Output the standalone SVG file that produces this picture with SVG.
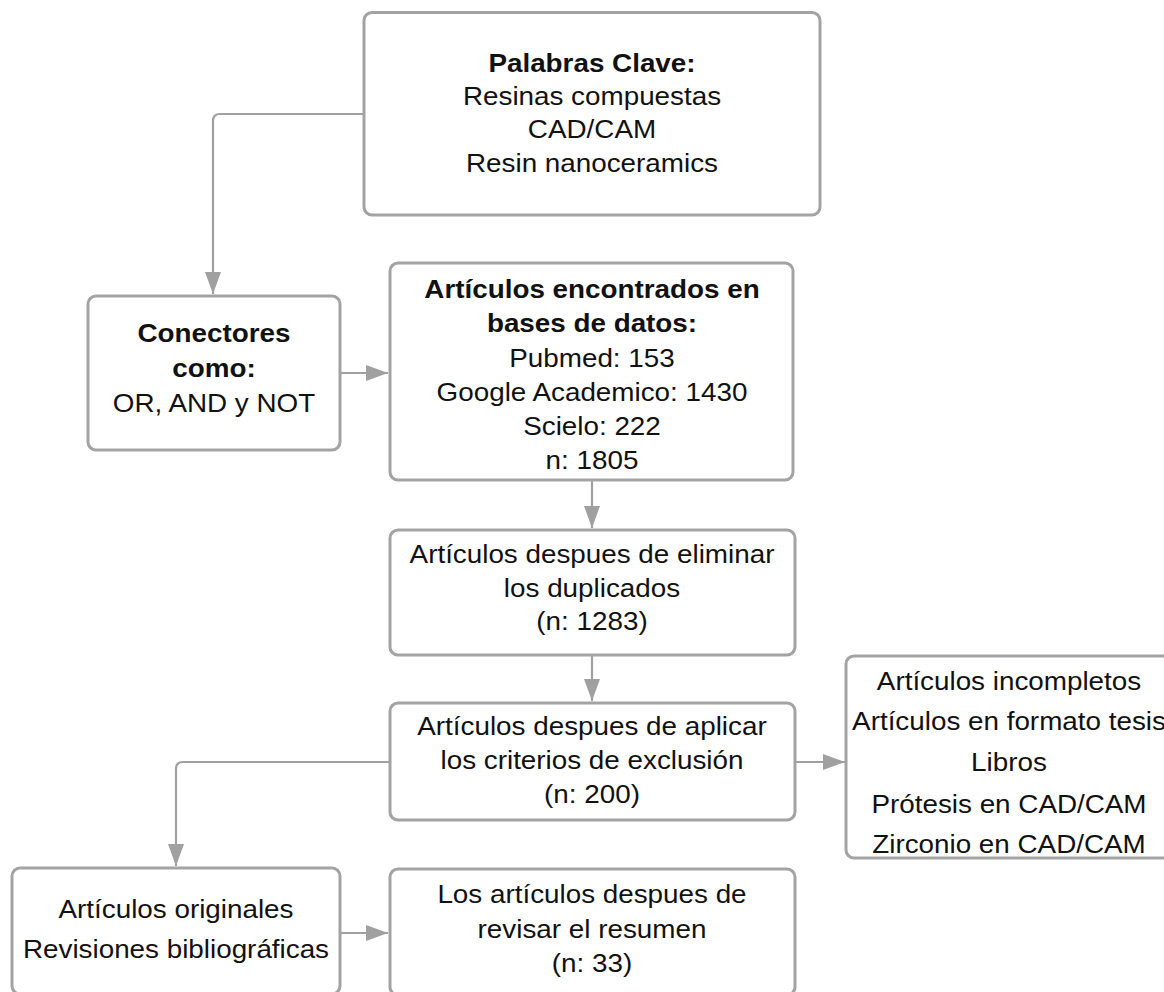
<svg xmlns="http://www.w3.org/2000/svg" width="1164" height="992" viewBox="0 0 1164 992">
<style>
.box{fill:#ffffff;stroke:#a3a3a3;stroke-width:3}
.t{font-family:"Liberation Sans",Arial,sans-serif;font-size:26.5px;fill:#111111;text-anchor:middle}
.b{font-weight:bold}
.c{fill:none;stroke:#a0a0a0;stroke-width:2.2}
</style>
<defs>
<marker id="ah" markerUnits="userSpaceOnUse" markerWidth="22" markerHeight="16" refX="22" refY="8" orient="auto">
<path d="M0,0 L22,8 L0,16 z" fill="#a0a0a0"/>
</marker>
</defs>
<rect width="1164" height="992" fill="#ffffff"/>
<g id="connectors">
<path class="c" d="M364,114 H220 Q213,114 213,121 V294" marker-end="url(#ah)"/>
<path class="c" d="M340,373 H388" marker-end="url(#ah)"/>
<path class="c" d="M592,481 V528" marker-end="url(#ah)"/>
<path class="c" d="M592,655 V701" marker-end="url(#ah)"/>
<path class="c" d="M390,762 H183 Q176,762 176,769 V866" marker-end="url(#ah)"/>
<path class="c" d="M795,762 H845" marker-end="url(#ah)"/>
<path class="c" d="M340,933 H388" marker-end="url(#ah)"/>
</g>
<g id="palabras">
<rect class="box" x="364" y="12.5" width="456" height="202.5" rx="8"/>
<text class="t" transform="matrix(1.05 0 0 1 -29.6 0)"><tspan class="b" x="592" y="72">Palabras Clave:</tspan><tspan x="592" y="105">Resinas compuestas</tspan><tspan x="592" y="138">CAD/CAM</tspan><tspan x="592" y="172">Resin nanoceramics</tspan></text>
</g>
<g id="conectores">
<rect class="box" x="88" y="296" width="252" height="154" rx="8"/>
<text class="t" transform="matrix(1.05 0 0 1 -10.7 0)"><tspan class="b" x="214" y="342">Conectores</tspan><tspan class="b" x="214" y="377">como:</tspan><tspan x="214" y="412">OR, AND y NOT</tspan></text>
</g>
<g id="encontrados">
<rect class="box" x="390" y="263" width="403" height="217" rx="8"/>
<text class="t" transform="matrix(1.05 0 0 1 -29.6 0)"><tspan class="b" x="592" y="298">Artículos encontrados en</tspan><tspan class="b" x="592" y="332">bases de datos:</tspan><tspan x="592" y="367">Pubmed: 153</tspan><tspan x="592" y="401">Google Academico: 1430</tspan><tspan x="592" y="435">Scielo: 222</tspan><tspan x="592" y="469">n: 1805</tspan></text>
</g>
<g id="duplicados">
<rect class="box" x="390" y="530" width="405" height="125" rx="8"/>
<text class="t" transform="matrix(1.05 0 0 1 -29.6 0)"><tspan x="592" y="563">Artículos despues de eliminar</tspan><tspan x="592" y="597">los duplicados</tspan><tspan x="592" y="630">(n: 1283)</tspan></text>
</g>
<g id="exclusion">
<rect class="box" x="390" y="703" width="405" height="117" rx="8"/>
<text class="t" transform="matrix(1.05 0 0 1 -29.6 0)"><tspan x="592" y="735">Artículos despues de aplicar</tspan><tspan x="592" y="769">los criterios de exclusión</tspan><tspan x="592" y="803">(n: 200)</tspan></text>
</g>
<g id="excluidos">
<rect class="box" x="846" y="656" width="330" height="202" rx="8"/>
<text class="t" transform="matrix(1.05 0 0 1 -50.45 0)"><tspan x="1009" y="690">Artículos incompletos</tspan><tspan x="1009" y="730">Artículos en formato tesis</tspan><tspan x="1009" y="771">Libros</tspan><tspan x="1009" y="813">Prótesis en CAD/CAM</tspan><tspan x="1009" y="853">Zirconio en CAD/CAM</tspan></text>
</g>
<g id="originales">
<rect class="box" x="12" y="868" width="328" height="126" rx="8"/>
<text class="t" transform="matrix(1.05 0 0 1 -8.8 0)"><tspan x="176" y="918">Artículos originales</tspan><tspan x="176" y="958">Revisiones bibliográficas</tspan></text>
</g>
<g id="resumen">
<rect class="box" x="390" y="869" width="405" height="126" rx="8"/>
<text class="t" transform="matrix(1.05 0 0 1 -29.6 0)"><tspan x="592" y="903">Los artículos despues de</tspan><tspan x="592" y="938">revisar el resumen</tspan><tspan x="592" y="972">(n: 33)</tspan></text>
</g>
</svg>
